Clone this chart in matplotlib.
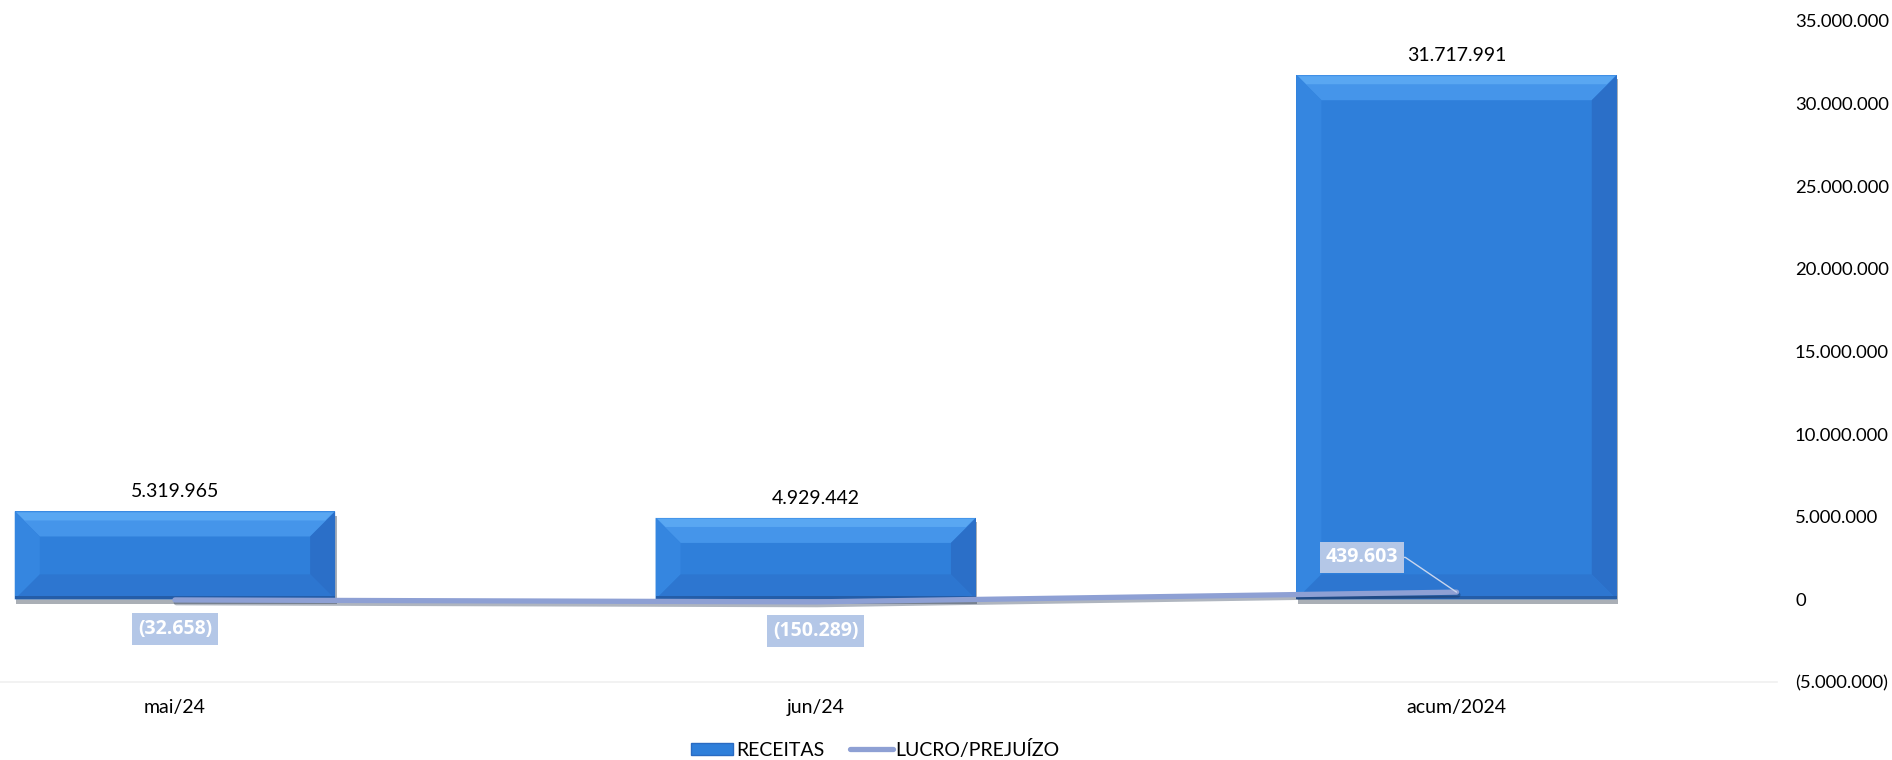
import numpy as np
import matplotlib

matplotlib.use('Agg')
import matplotlib.pyplot as plt
import matplotlib.patheffects as pe
from matplotlib.patches import Polygon, Patch
from matplotlib.lines import Line2D
from matplotlib.ticker import FuncFormatter

categorias = ['mai/24', 'jun/24', 'acum/2024']
receitas = [5319965, 4929442, 31717991]
lucro = [-32658, -150289, 439603]
yticks = [-5000000, 0, 5000000, 10000000, 15000000, 20000000, 25000000, 30000000, 35000000]

plt.rcParams['font.family'] = ['Lato', 'DejaVu Sans']


def fmt_br(v, pos=None):
    s = '{:,.0f}'.format(abs(v)).replace(',', '.')
    return '(' + s + ')' if v < 0 else s


fig = plt.figure(figsize=(18.92, 7.6), dpi=100)
ax = fig.add_axes([0.0, 0.1026, 0.9392, 0.8698])

x = np.arange(len(categorias))
ax.set_xlim(-0.273, 2.5)
ax.set_ylim(-5000000, 35000000)

cor_bar = '#2F7FDA'
bars = ax.bar(x, receitas, width=0.5, color=cor_bar, zorder=2,
              path_effects=[pe.SimplePatchShadow(offset=(1, -3), shadow_rgbFace='#0d1a30', alpha=0.35),
                            pe.Normal()])

# faces do chanfro calculadas a partir da geometria das barras (em pixels)
fig.canvas.draw()
tr = ax.transData
inv = tr.inverted()
b = 25
for rect in bars:
    x0, y0 = rect.get_x(), rect.get_y()
    x1, y1 = x0 + rect.get_width(), y0 + rect.get_height()
    (px0, py0), (px1, py1) = tr.transform([(x0, y0), (x1, y1)])
    bb = min(b, (py1 - py0) / 2.2)
    faces = [
        ([(px0, py1), (px1, py1), (px1 - bb, py1 - bb), (px0 + bb, py1 - bb)], '#4595EA'),
        ([(px0, py0), (px0, py1), (px0 + bb, py1 - bb), (px0 + bb, py0 + bb)], '#3586E0'),
        ([(px1, py0), (px1, py1), (px1 - bb, py1 - bb), (px1 - bb, py0 + bb)], '#2B6FC8'),
        ([(px0, py0), (px1, py0), (px1 - bb, py0 + bb), (px0 + bb, py0 + bb)], '#2D76D0'),
    ]
    for pts, c in faces:
        ax.add_patch(Polygon(inv.transform(pts), closed=True, facecolor=c, edgecolor='none', zorder=2.1))
    # faixa clara sob a borda de cima
    band = [(px0 + 2, py1 - 1), (px1 - 2, py1 - 1), (px1 - 10, py1 - 9), (px0 + 10, py1 - 9)]
    ax.add_patch(Polygon(inv.transform(band), closed=True, facecolor='#5CAAF4', edgecolor='none',
                         alpha=0.9, zorder=2.2))
    # borda escura embaixo
    ax.add_patch(Polygon(inv.transform([(px0, py0), (px1, py0), (px1, py0 + 3), (px0, py0 + 3)]),
                         closed=True, facecolor='#245DA8', edgecolor='none', zorder=2.2))
    ax.annotate(fmt_br(rect.get_height()), (rect.get_x() + rect.get_width() / 2, y1),
                xytext=(0, 8), textcoords='offset points', ha='center', va='bottom',
                fontsize=14, color='#000000', zorder=5)

cor_linha = '#8EA0D4'
ax.plot(x, lucro, color=cor_linha, lw=3.8, solid_capstyle='round', zorder=3,
        path_effects=[pe.SimpleLineShadow(offset=(1, -2), shadow_color='#1a2c48', alpha=0.35),
                      pe.Normal()])

offsets = [(0, -21), (0, -21), (-68, 25)]
for i, v in enumerate(lucro):
    kw = {}
    if i == 2:
        kw['arrowprops'] = dict(arrowstyle='-', color='#C9D6EE', lw=1,
                                relpos=(1, 0.5), shrinkA=0, shrinkB=0,
                                connectionstyle='arc,angleA=0,armA=7,angleB=0,armB=0,rad=0')
    ax.annotate(fmt_br(v), (x[i], v), xytext=offsets[i], textcoords='offset points',
                ha='center', va='center', fontsize=14, fontweight='bold', color='white',
                family=['Open Sans', 'DejaVu Sans'],
                bbox=dict(boxstyle='square,pad=0.3', facecolor='#B4C7E7', edgecolor='none'),
                zorder=6, **kw)

ax.yaxis.tick_right()
ax.set_yticks(yticks)
ax.yaxis.set_major_formatter(FuncFormatter(fmt_br))
ax.tick_params(axis='y', length=0, pad=13, labelsize=13.3, labelcolor='#000000')
ax.set_xticks(x)
ax.set_xticklabels(categorias)
ax.tick_params(axis='x', length=0, pad=12, labelsize=14, labelcolor='#000000')
for s in ['top', 'left', 'right']:
    ax.spines[s].set_visible(False)
ax.spines['bottom'].set_color('#F0F0F0')
ax.spines['bottom'].set_linewidth(1.2)

handles = [Patch(facecolor=cor_bar, edgecolor='#2A6BC2', lw=1),
           Line2D([0], [0], color=cor_linha, lw=3.8, solid_capstyle='round')]
fig.legend(handles, ['RECEITAS', 'LUCRO/PREJUÍZO'], loc='center', bbox_to_anchor=(0.4625, 0.014),
           ncol=2, frameon=False, fontsize=14, handlelength=2.2, handleheight=0.6,
           handletextpad=0.15, columnspacing=1.3)

plt.savefig('out.png', dpi=100)
